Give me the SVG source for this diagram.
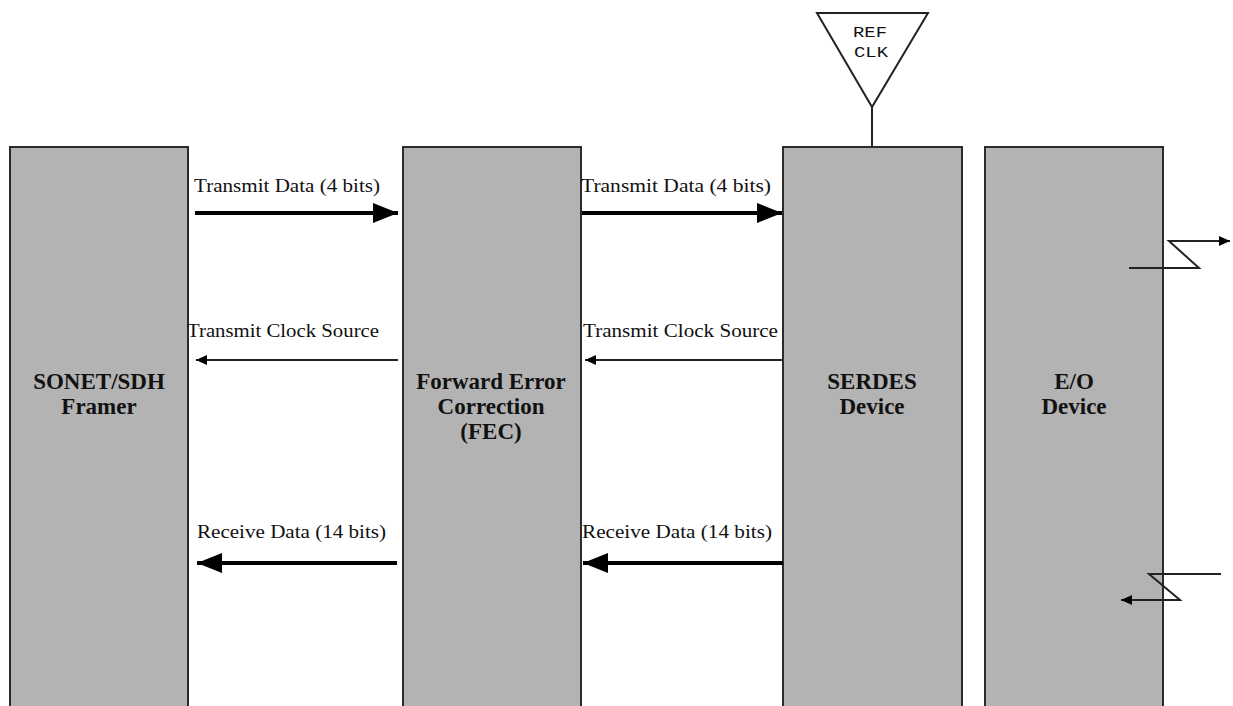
<svg xmlns="http://www.w3.org/2000/svg" width="1233" height="706" viewBox="0 0 1233 706">
  <style>
    .box { fill: #b3b3b3; stroke: #2b2b2b; stroke-width: 2; }
    .title { font-family: "Liberation Serif", "Times New Roman", serif; font-weight: bold; font-size: 23px; fill: #111; text-anchor: middle; }
    .lbl { font-family: "Liberation Serif", "Times New Roman", serif; font-size: 18px; fill: #111; }
    .mono { font-family: "Liberation Mono", "Courier New", monospace; font-size: 15px; fill: #111; text-anchor: middle; }
    .thick { stroke: #000; stroke-width: 4; fill: none; }
    .thin { stroke: #222; stroke-width: 2; fill: none; }
    .wire { stroke: #222; stroke-width: 2; fill: none; }
  </style>
  <defs>
    <marker id="bigHead" markerWidth="26" markerHeight="20" refX="25" refY="10" orient="auto" markerUnits="userSpaceOnUse">
      <path d="M0,0 L25,10 L0,20 Z" fill="#000"/>
    </marker>
    <marker id="smallHead" markerWidth="12" markerHeight="10" refX="11" refY="5" orient="auto" markerUnits="userSpaceOnUse">
      <path d="M0,0 L11,5 L0,10 Z" fill="#000"/>
    </marker>
  </defs>
  <rect width="1233" height="706" fill="#fff"/>

  <g id="framer">
    <rect class="box" x="10" y="147" width="178" height="580"/>
    <text class="title" x="99" y="389">SONET/SDH</text>
    <text class="title" x="99" y="414">Framer</text>
  </g>

  <g id="fec">
    <rect class="box" x="403" y="147" width="178" height="580"/>
    <text class="title" x="491" y="389">Forward Error</text>
    <text class="title" x="491" y="414">Correction</text>
    <text class="title" x="491" y="439">(FEC)</text>
  </g>

  <g id="serdes">
    <rect class="box" x="783" y="147" width="179" height="580"/>
    <text class="title" x="872" y="389">SERDES</text>
    <text class="title" x="872" y="414">Device</text>
  </g>

  <g id="eo">
    <rect class="box" x="985" y="147" width="178" height="580"/>
    <text class="title" x="1074" y="389">E/O</text>
    <text class="title" x="1074" y="414">Device</text>
  </g>

  <g id="refclk">
    <polygon points="817,13 928,13 872,107" fill="#fff" stroke="#222" stroke-width="2"/>
    <text class="mono" x="870" y="37" textLength="34" lengthAdjust="spacingAndGlyphs">REF</text>
    <text class="mono" x="871" y="57" textLength="34" lengthAdjust="spacingAndGlyphs">CLK</text>
  </g>

  <g id="connectors">
    <!-- reference clock feed into SERDES -->
    <line class="wire" x1="872" y1="107" x2="872" y2="147"/>

    <!-- transmit data -->
    <line class="thick" x1="195" y1="213" x2="398" y2="213" marker-end="url(#bigHead)"/>
    <line class="thick" x1="582" y1="213" x2="782" y2="213" marker-end="url(#bigHead)"/>

    <!-- transmit clock source -->
    <line class="thin" x1="398" y1="360" x2="196" y2="360" marker-end="url(#smallHead)"/>
    <line class="thin" x1="782" y1="360" x2="585" y2="360" marker-end="url(#smallHead)"/>

    <!-- receive data -->
    <line class="thick" x1="397" y1="563" x2="197" y2="563" marker-end="url(#bigHead)"/>
    <line class="thick" x1="783" y1="563" x2="583" y2="563" marker-end="url(#bigHead)"/>

    <!-- optical out / in -->
    <polyline class="wire" points="1129,268 1199,268 1169,241 1230,241" marker-end="url(#smallHead)"/>
    <polyline class="wire" points="1221,574 1149,574 1180,600 1121,600" marker-end="url(#smallHead)"/>
  </g>

  <g id="labels">
    <text class="lbl" x="194" y="192" textLength="186" lengthAdjust="spacingAndGlyphs">Transmit Data (4 bits)</text>
    <text class="lbl" x="581" y="192" textLength="190" lengthAdjust="spacingAndGlyphs">Transmit Data (4 bits)</text>
    <text class="lbl" x="187" y="337" textLength="192" lengthAdjust="spacingAndGlyphs">Transmit Clock Source</text>
    <text class="lbl" x="583" y="337" textLength="195" lengthAdjust="spacingAndGlyphs">Transmit Clock Source</text>
    <text class="lbl" x="197" y="538" textLength="189" lengthAdjust="spacingAndGlyphs">Receive Data (14 bits)</text>
    <text class="lbl" x="582" y="538" textLength="190" lengthAdjust="spacingAndGlyphs">Receive Data (14 bits)</text>
  </g>
</svg>
